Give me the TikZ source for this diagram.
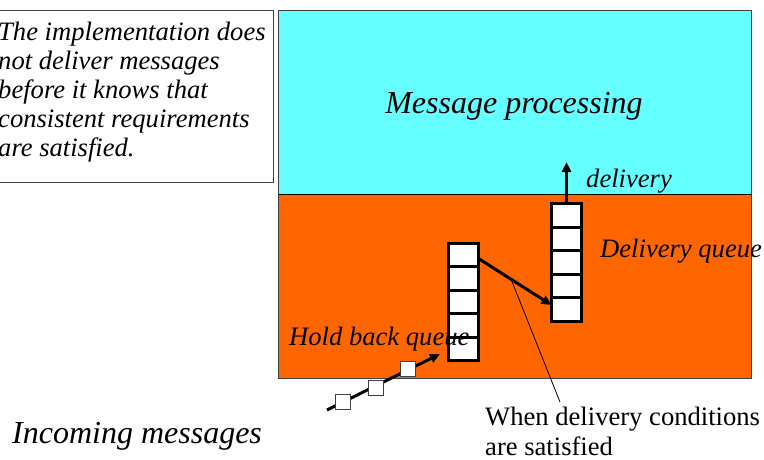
\documentclass[tikz,border=0pt]{standalone}
\usepackage{fontspec}
\setmainfont{Liberation Serif}
\usetikzlibrary{arrows.meta,calc}
\definecolor{proccyan}{HTML}{66FFFF}
\definecolor{queueorange}{HTML}{FF6600}
\definecolor{edgegray}{HTML}{404040}
\tikzset{
  cell/.style={draw=black, line width=3pt, fill=white, minimum width=30pt, minimum height=23.6pt, inner sep=0pt, outer sep=0pt},
  msg/.style={draw=edgegray, line width=1pt, fill=white, minimum width=15pt, minimum height=15pt, inner sep=0pt},
  bigtxt/.style={font=\fontsize{32}{36}\selectfont\itshape, inner sep=0pt},
  midtxt/.style={font=\fontsize{26.6}{29}\selectfont\itshape, inner sep=0pt},
  plaintxt/.style={font=\fontsize{26.6}{30}\selectfont, inner sep=0pt},
  flow/.style={line width=3pt, -{Triangle[length=10pt,width=9pt]}},
  callout/.style={line width=0.8pt, black}
}
\begin{document}
\begin{tikzpicture}[x=1pt,y=-1pt]
\useasboundingbox (0,0) rectangle (764,459);
% regions
\fill[proccyan] (278.5,10.5) rectangle (751,194);
\fill[queueorange] (278.5,194) rectangle (751,378);
\draw[edgegray, line width=1pt] (278.5,10.5) rectangle (751,378);
\draw[black, line width=1pt] (278.5,194) -- (751,194);
% note box
\draw[edgegray, line width=1pt] (-5,10.5) rectangle (273,182);
\node[midtxt, align=left, anchor=north west] (note) at (-2,21.8)
  {The implementation does\\not deliver messages\\before it knows that\\consistent requirements\\are satisfied.};
% labels
\node[bigtxt, anchor=base] (proc) at (514,113) {Message processing};
\node[bigtxt, anchor=base west] (incoming) at (12,443) {Incoming messages};
% delivery queue
\foreach \i in {1,...,5} {
  \node[cell] (d\i) at (566.5,{203.5+23.6*(\i-0.5)}) {};
}
% hold back queue
\foreach \i in {1,...,5} {
  \node[cell, minimum height=23.4pt] (h\i) at (463,{243.5+23.4*(\i-0.5)}) {};
}
\node[midtxt, anchor=base west] (dlabel) at (586,187) {delivery};
\node[midtxt, anchor=base west] (dqlabel) at (600,257) {Delivery queue};
\node[midtxt, anchor=base west] (hqlabel) at (289,345) {Hold back queue};
% delivery arrow
\coordinate (up) at (566.5,162);
\draw[flow] (d1.north) -- (up);
% transfer arrow
\draw[flow] ([yshift=-3pt]h1.east) -- coordinate[pos=0.45] (mid) ([yshift=4.7pt]d5.west);
% incoming messages
\coordinate (instart) at (327,410);
\coordinate (inend) at (440,354);
\draw[flow] (instart) -- (inend);
\node[msg] (m1) at (343,402) {};
\node[msg] (m2) at (376,388) {};
\node[msg] (m3) at (408,369) {};
% condition callout
\node[plaintxt, align=left, anchor=north west] (cond) at (485,406.8)
  {When delivery conditions\\are satisfied};
\coordinate (condtip) at (560,402);
\draw[callout] (mid) -- (condtip);
\end{tikzpicture}
\end{document}
